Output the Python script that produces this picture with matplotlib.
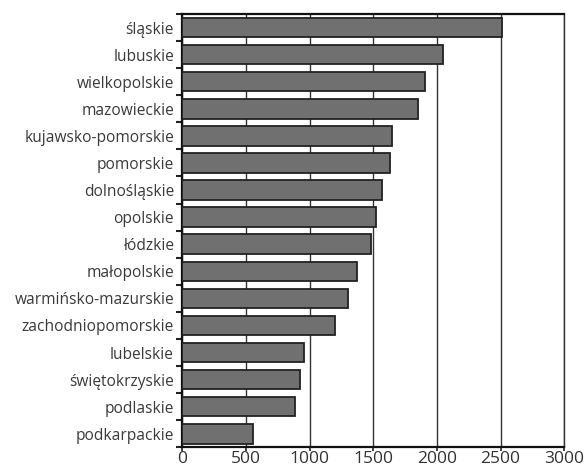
import matplotlib
matplotlib.use("Agg")
import matplotlib.pyplot as plt
import numpy as np

regions = [
    "śląskie", "lubuskie", "wielkopolskie", "mazowieckie", "kujawsko-pomorskie",
    "pomorskie", "dolnośląskie", "opolskie", "łódzkie", "małopolskie",
    "warmińsko-mazurskie", "zachodniopomorskie", "lubelskie", "świętokrzyskie",
    "podlaskie", "podkarpackie",
]
values = [2510, 2050, 1910, 1855, 1645, 1630, 1570, 1525, 1482, 1372,
          1300, 1198, 955, 926, 885, 555]
x_ticks = [0, 500, 1000, 1500, 2000, 2500, 3000]

plt.rcParams["font.family"] = ["Open Sans", "DejaVu Sans"]

fig = plt.figure(figsize=(5.85, 4.70), dpi=100)
ax = fig.add_axes([0.3116, 0.0483, 0.6530, 0.9219])

pos = np.arange(len(regions))
ax.barh(pos, values, height=0.72, color="#707070", edgecolor="#222222",
        linewidth=1.3, zorder=3)

ax.set_xlim(0, 3000)
ax.set_ylim(len(regions) - 0.5, -0.5)
ax.set_xticks(x_ticks)
ax.set_xticklabels([str(t) for t in x_ticks], fontsize=12.5, color="#333333")
ax.set_yticks(pos)
ax.set_yticklabels(regions, fontsize=11.2, color="#3a3a3a")
ax.set_yticks(np.arange(-0.5, len(regions), 1.0), minor=True)
ax.tick_params(axis="y", which="major", length=0, pad=6)
ax.tick_params(axis="y", which="minor", length=4, width=1.5, color="#222222")
ax.tick_params(axis="x", length=3, width=1.2, color="#222222", pad=0)

ax.xaxis.grid(True, color="#333333", linewidth=1.0, zorder=0)
for side in ["left", "bottom", "top"]:
    ax.spines[side].set_linewidth(1.6)
    ax.spines[side].set_color("#111111")
ax.spines["right"].set_linewidth(1.0)
ax.spines["right"].set_color("#333333")

fig.savefig("out.png", dpi=100)
